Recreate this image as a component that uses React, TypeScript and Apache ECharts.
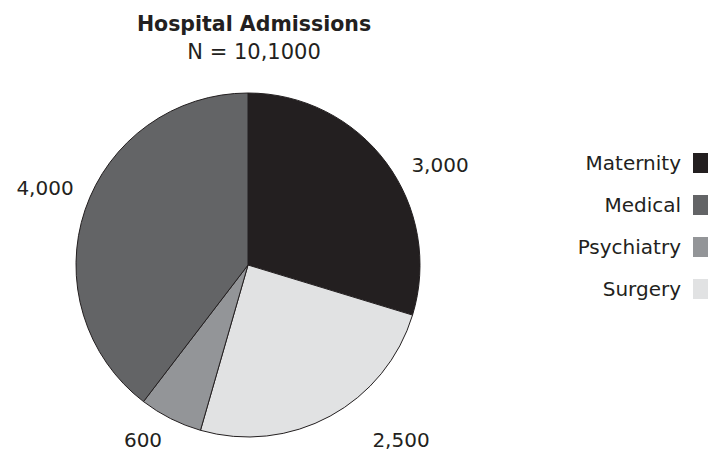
import React, { useEffect, useRef } from "react";
import * as echarts from "echarts";

// Admissions by department, in the order the slices run clockwise from 12 o'clock
const departments = ["Maternity", "Surgery", "Psychiatry", "Medical"];
const admissions = [3000, 2500, 600, 4000];
const sliceColors = ["#231f20", "#e1e2e3", "#939598", "#636466"];

// Legend lists the departments alphabetically
const legendOrder = ["Maternity", "Medical", "Psychiatry", "Surgery"];

const titleText = "Hospital Admissions";
const subtitleText = "N = 10,1000";

const FONT = "'DejaVu Sans', 'Noto Sans', sans-serif";
const INK = "#231f20";

// Where each value label sits on the canvas
const labelSpots: Record<string, [number, number]> = {
  Maternity: [440, 165],
  Surgery: [401, 440],
  Psychiatry: [143, 440],
  Medical: [45, 188],
};

export default function App() {
  const ref = useRef<HTMLDivElement>(null);

  useEffect(() => {
    if (!ref.current) return;
    const chart = echarts.init(ref.current, undefined, { renderer: "svg" });

    chart.setOption({
      animation: false,
      backgroundColor: "#ffffff",
      title: {
        text: titleText,
        subtext: subtitleText,
        left: 249,
        top: 8,
        textAlign: "center",
        itemGap: 7,
        textStyle: { fontFamily: FONT, fontSize: 20.5, fontWeight: "bold", color: INK },
        subtextStyle: { fontFamily: FONT, fontSize: 21, color: INK },
      },
      legend: {
        data: legendOrder,
        orient: "vertical",
        right: 0,
        top: 153,
        padding: 0,
        align: "right",
        icon: "rect",
        itemWidth: 15,
        itemHeight: 20,
        itemGap: 22,
        selectedMode: false,
        itemStyle: { borderWidth: 0 },
        textStyle: { fontFamily: FONT, fontSize: 20, color: INK, padding: [0, 7, 0, 0] },
      },
      series: [
        {
          type: "pie",
          center: [248, 265],
          radius: 172,
          startAngle: 90,
          clockwise: true,
          data: departments.map((name, i) => ({
            name,
            value: admissions[i],
            itemStyle: { color: sliceColors[i] },
          })),
          itemStyle: { borderColor: INK, borderWidth: 1 },
          emphasis: { disabled: true },
          label: {
            show: true,
            position: "outside",
            fontFamily: FONT,
            fontSize: 20,
            color: INK,
            overflow: "none",
            formatter: (p: any) => Number(p.value).toLocaleString("en-US"),
          },
          labelLine: { show: false },
          labelLayout: (p: any) => {
            const spot = labelSpots[departments[p.dataIndex]];
            return { x: spot[0], y: spot[1], align: "center", verticalAlign: "middle" };
          },
        },
      ],
    });

    return () => chart.dispose();
  }, []);

  return (
    <div
      ref={ref}
      style={{ position: "fixed", left: 0, top: 0, width: 708, height: 456 }}
    />
  );
}
